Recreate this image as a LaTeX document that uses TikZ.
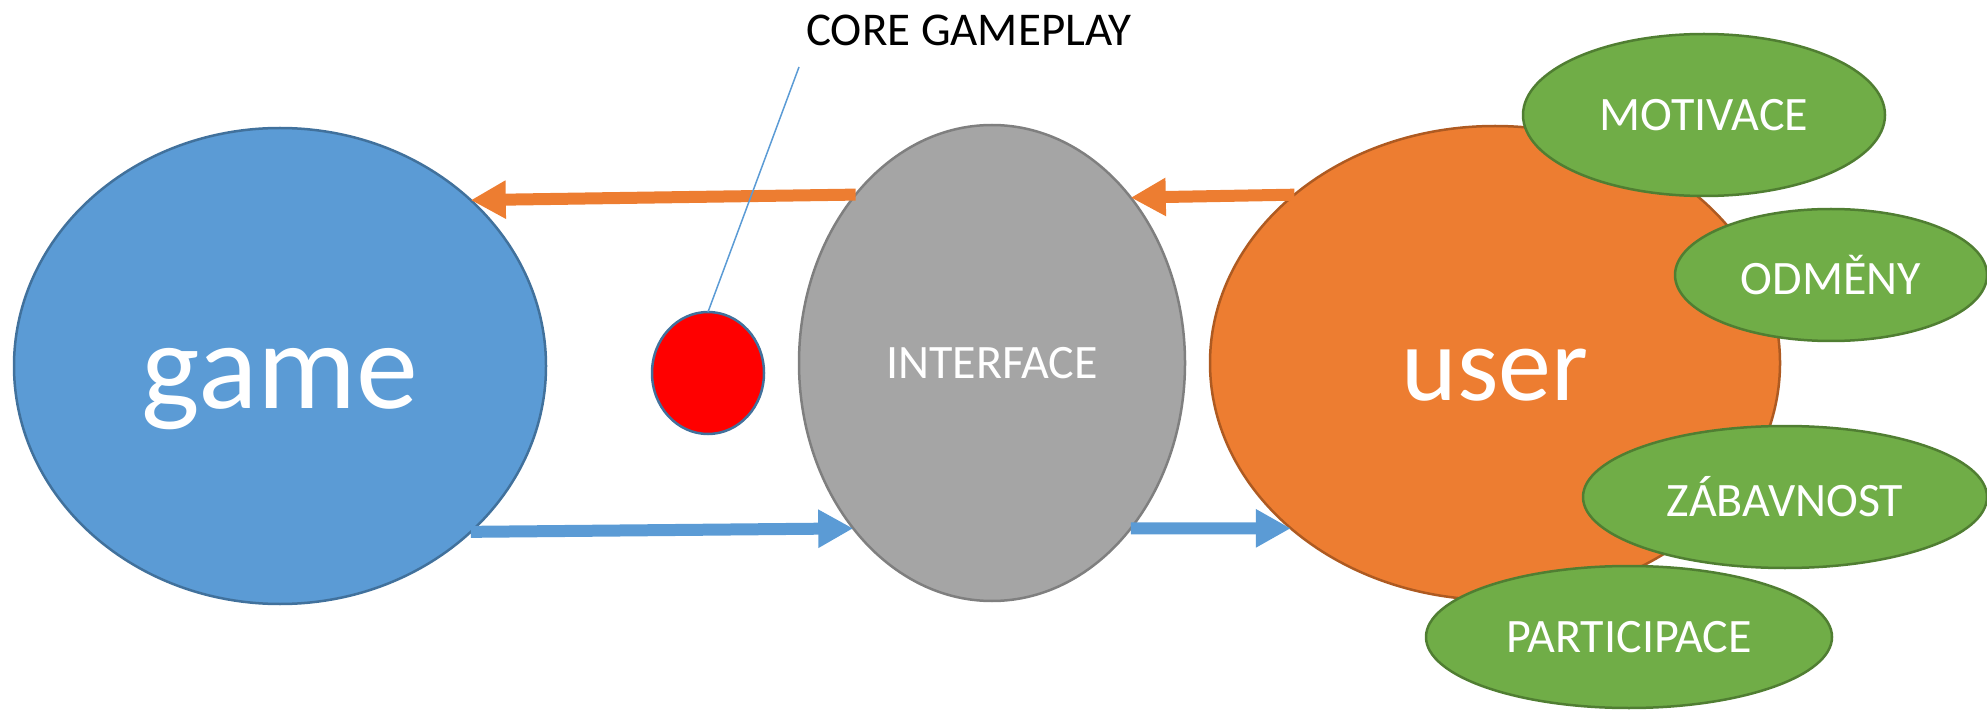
\documentclass[tikz,border=0pt]{standalone}
\usepackage{fontspec}
\setmainfont{Carlito}
\usetikzlibrary{arrows.meta,shapes.geometric}
\definecolor{gblue}{HTML}{5B9BD5}
\definecolor{gblueD}{HTML}{41719C}
\definecolor{ggray}{HTML}{A5A5A5}
\definecolor{ggrayD}{HTML}{7F7F7F}
\definecolor{gorange}{HTML}{ED7D31}
\definecolor{gorangeD}{HTML}{AE5A21}
\definecolor{ggreen}{HTML}{70AD47}
\definecolor{ggreenD}{HTML}{507E32}
\tikzset{
  blob/.style={ellipse, inner sep=0pt, outer sep=0pt, line width=2.5pt, text=white, font=\fontsize{48}{58}\selectfont},
  greenblob/.style={blob, fill=ggreen, draw=ggreenD},
  orangearrow/.style={draw=gorange, line width=12pt, -{Triangle[width=36pt,length=35pt]}},
  bluearrow/.style={draw=gblue, line width=12pt, -{Triangle[width=36pt,length=35pt]}},
}
\begin{document}
\begin{tikzpicture}[x=1pt,y=-1pt]
\useasboundingbox (0,0) rectangle (1987,711);
% main ellipses
\node[blob, font=\fontsize{124}{140}\selectfont, text height=84pt, text depth=0pt, fill=gblue, draw=gblueD, minimum width=532pt, minimum height=476pt] (game) at (280,366) {game};
\node[blob, fill=ggray, draw=ggrayD, minimum width=386pt, minimum height=476pt] (iface) at (992,363) {INTERFACE};
\node[blob, font=\fontsize{106}{120}\selectfont, text height=74pt, text depth=0pt, fill=gorange, draw=gorangeD, minimum width=570pt, minimum height=474pt] (user) at (1495,363) {user};
\node[ellipse, inner sep=0pt, outer sep=0pt, fill=red, draw=gblueD, line width=2.5pt, minimum width=112pt, minimum height=122pt] (core) at (708,373) {};
% green satellites
\node[greenblob, minimum width=362pt, minimum height=162pt] (mot) at (1704,115) {MOTIVACE};
\node[greenblob, minimum width=312pt, minimum height=132pt] (odm) at (1831,275) {ODMĚNY};
\node[greenblob, minimum width=404pt, minimum height=142pt] (zab) at (1785,497) {ZÁBAVNOST};
\node[greenblob, minimum width=406pt, minimum height=142pt] (par) at (1629,637) {PARTICIPACE};
% arrows
\draw[orangearrow] (iface.129.5) -- (game.41.8);
\draw[orangearrow] (user.140.1) -- (iface.50.4);
\draw[bluearrow] (game.-41.3) -- (iface.230.6);
\draw[bluearrow] (iface.-50.6) -- (user.219.9);
% callout
\node[font=\fontsize{47}{56}\selectfont, text=black, inner sep=0pt] (lbl) at (969,30) {CORE GAMEPLAY};
\coordinate (lblend) at (799,67);
\draw[gblue, line width=1.5pt] (lblend) -- (core.north);
\end{tikzpicture}
\end{document}
